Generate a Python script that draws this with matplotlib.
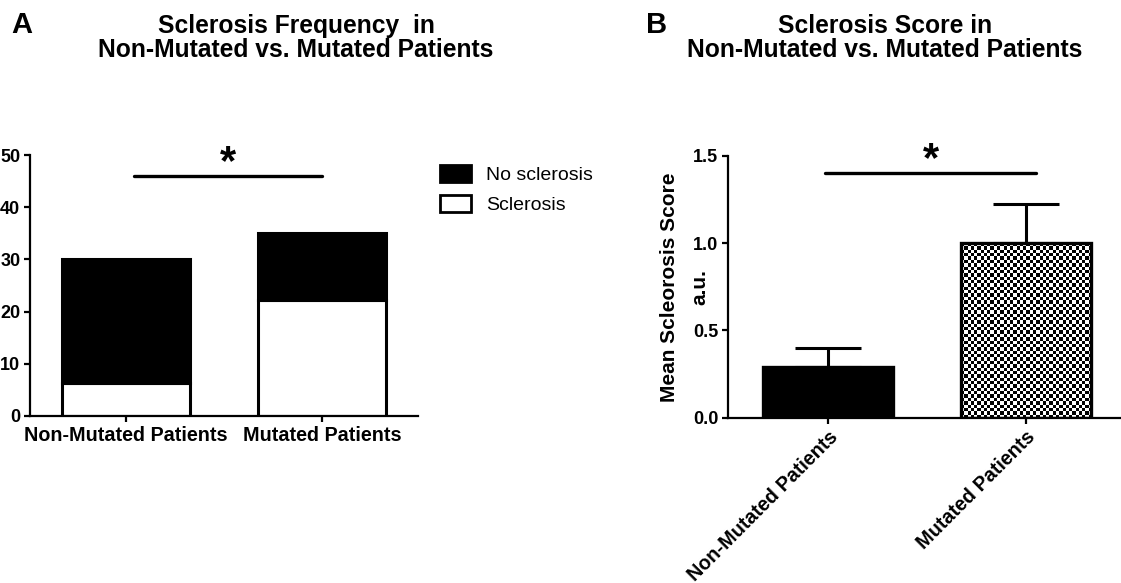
import numpy as np
import matplotlib
matplotlib.use('Agg')
import matplotlib.pyplot as plt
from matplotlib.patches import Patch

plt.rcParams['font.family'] = ['Liberation Sans', 'DejaVu Sans']

# data
groups = ['Non-Mutated Patients', 'Mutated Patients']
freq_sclerosis = [6.3, 22.2]
freq_no_sclerosis = [23.7, 12.8]
freq_sig_y = 46
score_mean = [0.29, 1.0]
score_sem = [0.11, 0.225]
score_sig_y = 1.4

fig = plt.figure(figsize=(11.21, 5.83), dpi=100)
W, H = 1121, 583


def style_axes(ax):
    for s in ['top', 'right']:
        ax.spines[s].set_visible(False)
    for s in ['left', 'bottom']:
        ax.spines[s].set_linewidth(1.6)
    ax.tick_params(axis='both', direction='out', width=1.6, length=4, pad=3)
    ax.tick_params(axis='y', labelsize=13)
    for lab in ax.get_yticklabels():
        lab.set_fontweight('bold')


# ---- panel A ----
axA = fig.add_axes([30 / W, 1 - 416 / H, 388 / W, 261 / H])
x = np.arange(len(groups))
axA.bar(x, freq_sclerosis, width=0.65, color='white', edgecolor='black', linewidth=2.2)
axA.bar(x, freq_no_sclerosis, width=0.65, bottom=freq_sclerosis, color='black',
        edgecolor='black', linewidth=2.2)
axA.set_xlim(-0.49, 1.49)
axA.set_ylim(0, 50)
axA.set_yticks([0, 10, 20, 30, 40, 50])
axA.set_xticks(x)
axA.set_xticklabels(groups, fontsize=14.2, fontweight='bold')
style_axes(axA)
axA.plot([0.04, 1.0], [freq_sig_y, freq_sig_y], color='black', lw=2.4,
         solid_capstyle='round', clip_on=False)
axA.text(0.52, freq_sig_y - 1.3, '*', ha='center', va='bottom', fontsize=30,
         fontweight='bold', clip_on=False)

fig.legend(handles=[Patch(facecolor='black', edgecolor='black', linewidth=2),
                    Patch(facecolor='white', edgecolor='black', linewidth=2)],
           labels=['No sclerosis', 'Sclerosis'], loc='upper left',
           bbox_to_anchor=(440 / W, 1 - 165 / H), frameon=False, fontsize=14,
           handlelength=1.6, handleheight=0.95, handletextpad=0.75, labelspacing=0.55,
           borderaxespad=0, borderpad=0)

# ---- panel B ----
axB = fig.add_axes([728 / W, 1 - 417.7 / H, 392 / W, 261.7 / H])
bars = axB.bar(x, score_mean, width=0.66, color=['black', 'white'],
               edgecolor='black', linewidth=2.4, zorder=2)
axB.errorbar(x, score_mean, yerr=[[0, 0], score_sem], fmt='none', ecolor='black',
             elinewidth=2.2, capsize=24, capthick=2.2, zorder=1)
axB.set_yticks([0.0, 0.5, 1.0, 1.5])
axB.set_yticklabels(['0.0', '0.5', '1.0', '1.5'])
axB.set_xticks(x)
axB.set_xticklabels(groups, fontsize=14.2, fontweight='bold', rotation=45,
                    ha='right', rotation_mode='anchor')
style_axes(axB)

# checkerboard fill for the mutated bar
b = bars[1]
checker = np.indices((52, 40)).sum(axis=0) % 2
im = axB.imshow(checker, cmap='gray', interpolation='nearest', aspect='auto',
                extent=[b.get_x(), b.get_x() + b.get_width(), 0, b.get_height()],
                zorder=1.5)
im.set_clip_path(b)
b.set_facecolor('none')
axB.set_xlim(-0.505, 1.475)
axB.set_ylim(0, 1.5)

axB.set_ylabel('Mean Scleorosis Score', fontsize=15, fontweight='bold')
axB.yaxis.set_label_coords(-0.1505, 0.5)
axB.yaxis.label.set_verticalalignment('center')
axB.text(-0.0714, 0.5, 'a.u.', transform=axB.transAxes, rotation=90, ha='center',
         va='center', fontsize=15, fontweight='bold')

axB.plot([-0.015, 1.05], [score_sig_y, score_sig_y], color='black', lw=2.4,
         solid_capstyle='round', clip_on=False)
axB.text(0.52, score_sig_y - 0.04, '*', ha='center', va='bottom', fontsize=30,
         fontweight='bold', clip_on=False)

# titles and panel letters
fig.text(296 / W, 1 - 38 / H, 'Sclerosis Frequency  in\nNon-Mutated vs. Mutated Patients',
         ha='center', va='center', fontsize=17.7, fontweight='bold', linespacing=1.0)
fig.text(885 / W, 1 - 38 / H, 'Sclerosis Score in\nNon-Mutated vs. Mutated Patients',
         ha='center', va='center', fontsize=17.7, fontweight='bold', linespacing=1.0)
fig.text(11 / W, 1 - 33 / H, 'A', ha='left', va='baseline', fontsize=21, fontweight='bold')
fig.text(646 / W, 1 - 33 / H, 'B', ha='left', va='baseline', fontsize=21, fontweight='bold')

fig.savefig('out.png', dpi=100)
